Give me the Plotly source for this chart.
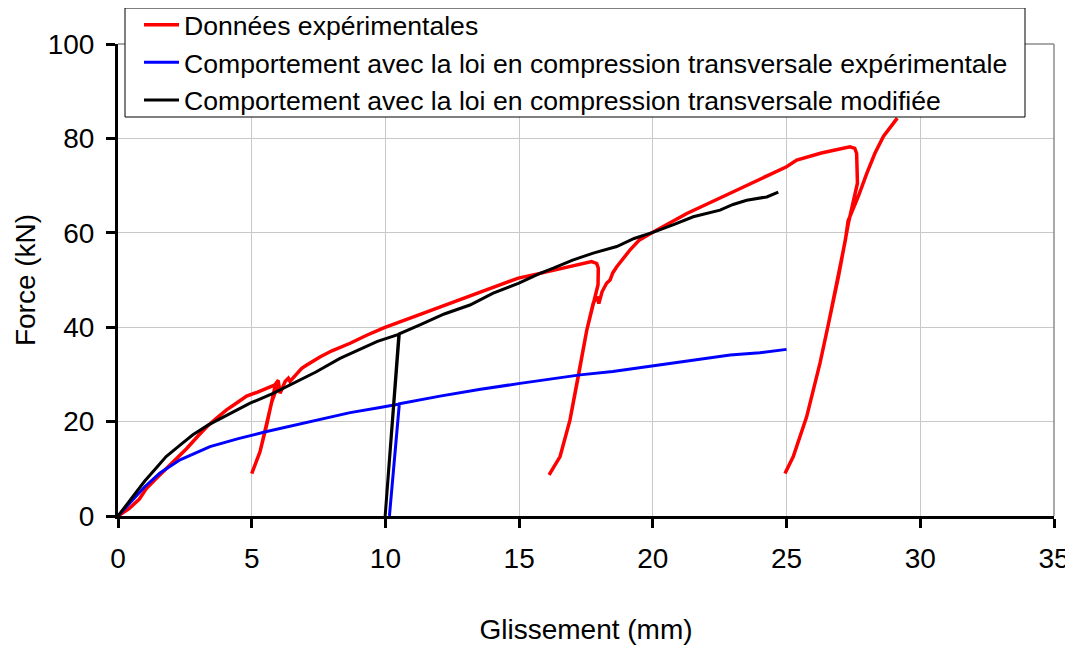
import plotly.graph_objects as go

# Données expérimentales (red)
exp_x = [0, 0.4, 0.8, 1.07, 1.4, 1.69, 2.1, 2.57, 3.0, 3.32, 3.7, 4.06, 4.45, 4.81, 5.2, 5.56, 5.87, 6.0,
         5.93, 5.75, 5.56, 5.31, 5.0,
         5.31, 5.56, 5.75, 5.87, 6.0, 6.06, 6.25, 6.37, 6.43, 6.68, 6.87, 7.06, 7.55, 8.0, 8.68, 9.3, 9.96,
         11.2, 12.42, 13.7, 14.97, 15.78, 16.5, 17.2, 17.71, 17.9, 17.96, 17.95,
         17.77, 17.53, 17.21, 16.9, 16.53, 16.12,
         16.53, 16.9, 17.21, 17.53, 17.77, 17.92, 17.98, 18.1, 18.27, 18.4, 18.5, 18.65, 19.15, 19.5, 20.0,
         21.27, 23.01, 23.95, 25.0, 25.38, 26.3, 27.37, 27.55, 27.62, 27.65,
         27.31, 26.94, 26.57, 26.25, 25.75, 25.25, 24.94,
         25.25, 25.75, 26.25, 26.57, 26.94, 27.2, 27.3, 27.37, 27.7, 28.0, 28.3, 28.62, 28.9, 29.14]
exp_y = [0, 1.5, 3.6, 5.9, 7.8, 9.4, 11.8, 14.3, 17.0, 18.9, 20.8, 22.5, 24.0, 25.4, 26.2, 27.1, 27.8, 28.8,
         27.0, 24.2, 19.3, 13.6, 9.0,
         13.6, 19.3, 24.2, 27.4, 28.4, 26.0, 28.5, 29.2, 28.5, 30.2, 31.3, 32.0, 33.7, 35.0, 36.6, 38.3, 39.9,
         42.5, 45.1, 47.8, 50.4, 51.4, 52.3, 53.1, 53.9, 53.5, 52.5, 49.0,
         45.1, 39.4, 29.5, 20.3, 12.6, 8.7,
         12.6, 20.3, 29.5, 39.4, 45.1, 46.5, 45.0, 47.5, 49.3, 50.0, 51.5, 52.8, 56.4, 58.5, 60.1,
         64.1, 68.7, 71.2, 74.0, 75.4, 76.9, 78.2, 77.9, 76.8, 70.5,
         62.0, 50.7, 40.8, 32.4, 21.0, 12.6, 9.0,
         12.6, 21.0, 32.4, 40.8, 50.7, 58.5, 62.5, 63.4, 68.0, 72.6, 76.8, 80.4, 82.5, 84.3]

# Comportement avec la loi en compression transversale expérimentale (blue)
exp_law_x = [0, 0.5, 1.0, 1.57, 2.32, 3.44, 4.5, 5.56, 7.0, 8.68, 9.8, 10.52, 10.15, 10.52,
             12.04, 13.5, 15.03, 16.2, 17.28, 18.5, 20.02, 21.5, 22.89, 24.0, 25.0]
exp_law_y = [0, 3.0, 6.2, 9.1, 11.9, 14.7, 16.4, 17.9, 19.7, 21.9, 23.0, 23.7, 0, 23.8,
             25.4, 26.8, 28.1, 29.0, 29.9, 30.6, 31.8, 32.9, 34.1, 34.6, 35.3]

# Comportement avec la loi en compression transversale modifiée (black)
mod_law_x = [0, 0.5, 1.0, 1.42, 1.8, 2.32, 2.8, 3.38, 4.2, 4.94, 5.8, 6.5, 7.4, 8.3, 9.0, 9.7, 10.5, 9.99, 10.52,
             11.29, 12.2, 13.16, 14.03, 14.97, 15.78, 16.28, 17.0, 17.77, 18.65, 19.3, 20.0, 20.8, 21.51,
             22.51, 23.0, 23.51, 24.26, 24.69]
mod_law_y = [0, 3.8, 7.4, 10.1, 12.6, 15.0, 17.2, 19.3, 21.8, 23.9, 26.0, 28.0, 30.5, 33.4, 35.2, 37.0, 38.5, 0, 38.6,
             40.5, 42.8, 44.7, 47.2, 49.3, 51.4, 52.5, 54.2, 55.7, 57.1, 58.8, 60.1, 61.8, 63.4,
             64.8, 66.0, 66.9, 67.6, 68.6]

series_names = ["Données expérimentales",
                "Comportement avec la loi en compression transversale expérimentale",
                "Comportement avec la loi en compression transversale modifiée"]
series_colors = ["#ff0000", "#0000ff", "#000000"]
series_widths = [3.5, 3, 3]

x_ticks = [0, 5, 10, 15, 20, 25, 30, 35]
y_ticks = [0, 20, 40, 60, 80, 100]

FONT = "Arial, Liberation Sans, sans-serif"

# the page body has an 8px margin: compensate so the plot lands where the reference has it
L, T, PW, PH = 110, 36, 936, 472
W, H = 1065, 637

def px_to_paper_x(px):
    return (px - 8 - L) / PW

def px_to_paper_y(py):
    return 1 - (py - 8 - T) / PH

fig = go.Figure()
for xs, ys, name, col, lw in [(exp_x, exp_y, series_names[0], series_colors[0], series_widths[0]),
                              (exp_law_x, exp_law_y, series_names[1], series_colors[1], series_widths[1]),
                              (mod_law_x, mod_law_y, series_names[2], series_colors[2], series_widths[2])]:
    fig.add_trace(go.Scatter(x=xs, y=ys, mode="lines", name=name,
                             line=dict(color=col, width=lw)))

axis_common = dict(
    showline=True, linecolor="black", linewidth=3,
    ticks="outside", ticklen=9, tickwidth=3, tickcolor="black",
    showgrid=True, gridcolor="#c8c8c8", gridwidth=1,
    zeroline=False,
    tickfont=dict(family=FONT, size=28, color="black"),
)

fig.update_layout(
    width=W, height=H,
    margin=dict(l=L, r=W - L - PW, t=T, b=H - T - PH, pad=0, autoexpand=False),
    paper_bgcolor="white", plot_bgcolor="white",
    font=dict(family=FONT, color="black"),
    xaxis=dict(range=[0, 35], tickvals=x_ticks, ticklabelstandoff=6,
               title=dict(text="Glissement (mm)", font=dict(family=FONT, size=28), standoff=50),
               automargin=False, **axis_common),
    yaxis=dict(range=[0, 100], tickvals=y_ticks, ticklabelstandoff=6,
               title=dict(text="Force (kN)", font=dict(family=FONT, size=28), standoff=4),
               automargin=False, **axis_common),
    legend=dict(x=px_to_paper_x(139), y=px_to_paper_y(1), xanchor="left", yanchor="top",
                bgcolor="rgba(0,0,0,0)", borderwidth=0,
                font=dict(family=FONT, size=26.6, color="black"),
                itemwidth=35, tracegroupgap=0),
    shapes=[
        dict(type="line", xref="paper", yref="paper", x0=0, x1=1, y0=1, y1=1,
             line=dict(color="#8c8c8c", width=1.5), layer="above"),
        dict(type="line", xref="paper", yref="paper", x0=1, x1=1, y0=0, y1=1,
             line=dict(color="#8c8c8c", width=1.5), layer="above"),
        dict(type="rect", xref="paper", yref="paper",
             x0=px_to_paper_x(125), x1=px_to_paper_x(1025),
             y0=px_to_paper_y(117), y1=px_to_paper_y(8),
             fillcolor="white", line=dict(color="black", width=1), layer="above"),
    ],
)

fig.write_html("out.html")
